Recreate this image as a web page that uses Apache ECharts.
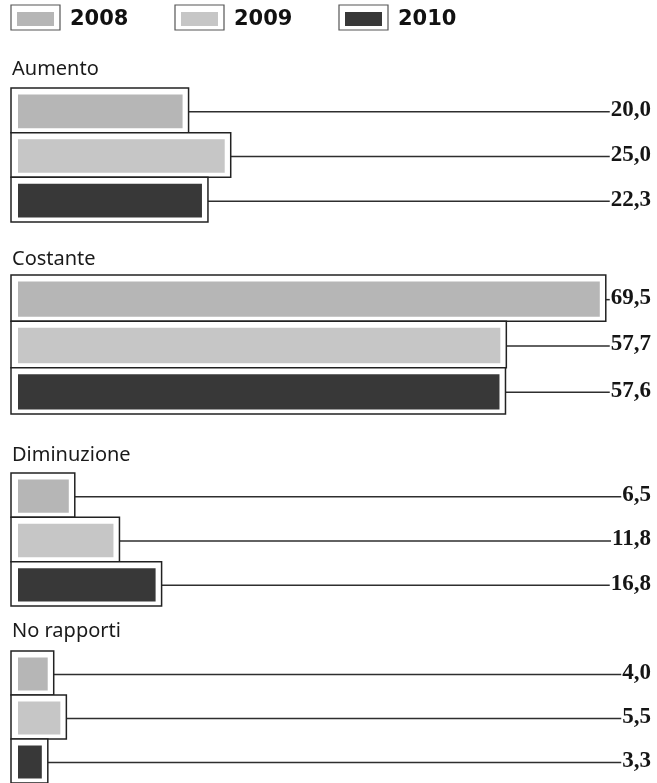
<!DOCTYPE html>
<html>
<head>
<meta charset="utf-8">
<style>
  html, body { margin: 0; padding: 0; background: #fff; }
  #chart { width: 657px; height: 783px; }
</style>
<script src="https://cdn.jsdelivr.net/npm/echarts@6/dist/echarts.min.js"></script>
</head>
<body>
<div id="chart"></div>
<script>
// Years shown in each group (top to bottom)
const years = ['2008', '2009', '2010'];
// Group headings
const groups = ['Aumento', 'Costante', 'Diminuzione', 'No rapporti'];
// Percentages per group, in year order
const aumento = [20.0, 25.0, 22.3];
const costante = [69.5, 57.7, 57.6];
const diminuzione = [6.5, 11.8, 16.8];
const noRapporti = [4.0, 5.5, 3.3];
// Fill for each year
const yearColors = ['#b6b6b6', '#c6c6c6', '#383838'];

const groupValues = [aumento, costante, diminuzione, noRapporti];

// Vertical layout of the four blocks
const blockTop = [88, 275, 473, 651];
const blockHeight = [134, 139, 133, 134];
const titleY = [69, 259, 455, 631];

const labelRight = 651;
const labelFont = 'bold 23px "Liberation Serif"';
const measureCtx = document.createElement('canvas').getContext('2d');
function textWidth(str) {
  measureCtx.font = labelFont;
  return measureCtx.measureText(str).width;
}
function fmt(v) { return v.toFixed(1).replace('.', ','); }

const chart = echarts.init(document.getElementById('chart'), null, { renderer: 'canvas' });

const grids = [], xAxes = [], yAxes = [], series = [];
groupValues.forEach((vals, g) => {
  grids.push({ left: 20, width: 590, top: blockTop[g], height: blockHeight[g] });
  xAxes.push({ type: 'value', gridIndex: g, min: 0, max: 70, show: false });
  yAxes.push({ type: 'category', gridIndex: g, data: years, inverse: true, show: false });
  series.push({
    type: 'custom',
    xAxisIndex: g,
    yAxisIndex: g,
    encode: { x: 0, y: 1 },
    data: vals.map((v, i) => [v, years[i]]),
    renderItem: function (params, api) {
      const v = api.value(0);
      const idx = params.dataIndex;
      const zero = api.coord([0, idx]);
      const end = api.coord([v, idx]);
      const band = api.size([0, 1])[1];
      const cy = end[1];
      const top = cy - band / 2;
      const x0 = zero[0] - 9;
      const x1 = end[0];
      const label = fmt(v);
      const lx = labelRight - textWidth(label) - 1;
      return {
        type: 'group',
        children: [
          {
            type: 'line',
            shape: { x1: x1, y1: cy + 1.5, x2: lx, y2: cy + 1.5 },
            style: { stroke: '#2e2e2e', lineWidth: 1.5 }
          },
          {
            type: 'rect',
            shape: { x: x0, y: top, width: x1 - x0, height: band },
            style: { fill: '#ffffff', stroke: '#222222', lineWidth: 1.5 }
          },
          {
            type: 'rect',
            shape: { x: x0 + 7, y: top + 6.5, width: Math.max(1, x1 - x0 - 13), height: band - 11 },
            style: { fill: yearColors[idx] }
          },
          {
            type: 'text',
            x: labelRight,
            y: cy,
            style: {
              text: label,
              font: labelFont,
              fill: '#151515',
              align: 'right',
              verticalAlign: 'middle'
            }
          }
        ]
      };
    }
  });
});

// Legend swatches and group headings
const graphics = [];
years.forEach((y, i) => {
  const x = 11 + 164 * i;
  graphics.push({
    type: 'rect', x: x, y: 5,
    shape: { x: 0, y: 0, width: 49, height: 25 },
    style: { fill: '#fff', stroke: '#555', lineWidth: 1.2 }
  });
  graphics.push({
    type: 'rect', x: x + 6, y: 12,
    shape: { x: 0, y: 0, width: 37, height: 14 },
    style: { fill: yearColors[i] }
  });
  graphics.push({
    type: 'text', x: x + 59, y: 20,
    style: { text: y, font: 'bold 21px "DejaVu Sans"', fill: '#111', verticalAlign: 'middle' }
  });
});
groups.forEach((t, g) => {
  graphics.push({
    type: 'text', x: 12, y: titleY[g],
    style: { text: t, font: '20px "Noto Sans"', fill: '#1a1a1a', verticalAlign: 'middle' }
  });
});

chart.setOption({
  animation: false,
  backgroundColor: '#ffffff',
  grid: grids,
  xAxis: xAxes,
  yAxis: yAxes,
  series: series,
  graphic: { elements: graphics }
});
</script>
</body>
</html>
